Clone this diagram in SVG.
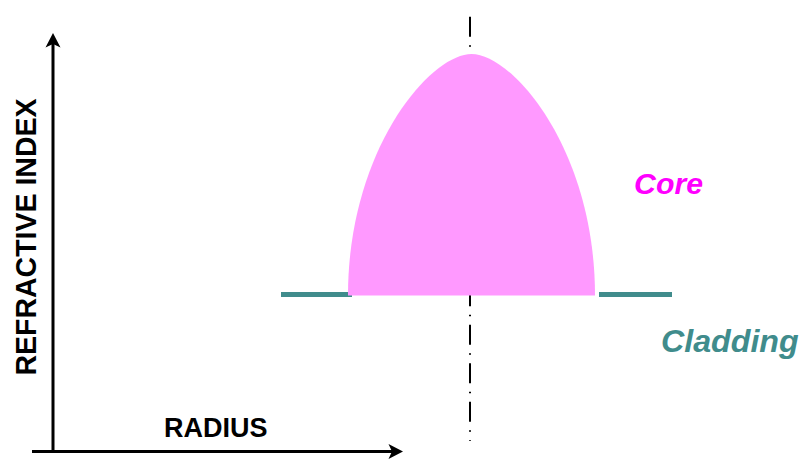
<svg xmlns="http://www.w3.org/2000/svg" width="807" height="462" viewBox="0 0 807 462">
  <style>
    .lbl { font-family: "Liberation Sans", Arial, sans-serif; font-weight: bold; }
    .ital { font-style: italic; }
    .axis { stroke: #000; stroke-width: 3; fill: none; }
    .clad { stroke: #408C8C; stroke-width: 5; fill: none; }
    .centre { stroke: #000; stroke-width: 2; stroke-dasharray: 20 8.5 1.5 8.5; fill: none; }
  </style>
  <defs>
    <marker id="ah" viewBox="-16 -8 17 16" markerWidth="17" markerHeight="16" refX="-8" refY="0" orient="auto" markerUnits="userSpaceOnUse">
      <path d="M0,0 L-14.5,-7.5 L-11,0 L-14.5,7.5 Z" fill="#000"/>
    </marker>
  </defs>
  <rect width="807" height="462" fill="#fff"/>

  <g id="centre-line">
    <line class="centre" x1="470" y1="16.7" x2="470" y2="441"/>
  </g>

  <g id="cladding">
    <line class="clad" x1="281" y1="294.5" x2="352" y2="294.5"/>
    <line class="clad" x1="599" y1="294.5" x2="672" y2="294.5"/>
  </g>

  <g id="core">
    <path d="M348,295.5 C348,150 430,54 471.5,54 C513,54 595,150 595,295.5 Z" fill="#FF99FF"/>
  </g>

  <g id="connectors">
    <line class="axis" x1="53" y1="452" x2="53" y2="41" marker-end="url(#ah)"/>
    <line class="axis" x1="32" y1="451.5" x2="395" y2="451.5" marker-end="url(#ah)"/>
  </g>

  <g id="label-core">
    <text class="lbl ital" x="634" y="194.3" font-size="30.3" fill="#FF00FF">Core</text>
  </g>
  <g id="label-cladding">
    <text class="lbl ital" x="661" y="351.7" font-size="32.2" fill="#408C8C">Cladding</text>
  </g>
  <g id="label-radius">
    <text class="lbl" x="164" y="437.3" font-size="27" fill="#000">RADIUS</text>
  </g>
  <g id="label-refractive">
    <text class="lbl" transform="translate(36,375.5) rotate(-90)" font-size="29" textLength="277" lengthAdjust="spacingAndGlyphs" fill="#000">REFRACTIVE INDEX</text>
  </g>
</svg>
